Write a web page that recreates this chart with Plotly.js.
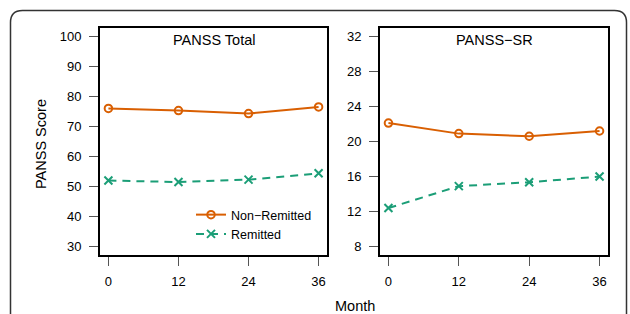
<!DOCTYPE html>
<html>
<head>
<meta charset="utf-8">
<script src="https://cdn.plot.ly/plotly-3.0.1.min.js"></script>
<style>html,body{margin:0;padding:0;background:#fff;}#chart{width:630px;height:314px;}</style>
</head>
<body>
<div id="chart"></div>
<script>
const months = [0, 12, 24, 36];
const seriesNames = ["Non\u2212Remitted", "Remitted"];
const totalNonRemitted = [76.0, 75.3, 74.3, 76.5];
const totalRemitted = [52.0, 51.5, 52.3, 54.4];
const srNonRemitted = [22.1, 20.9, 20.6, 21.2];
const srRemitted = [12.4, 14.9, 15.35, 16.0];
const totalTicks = [30, 40, 50, 60, 70, 80, 90, 100];
const srTicks = [8, 12, 16, 20, 24, 28, 32];
const panelTitles = ["PANSS Total", "PANSS\u2212SR"];
const yTitle = "PANSS Score";
const xTitle = "Month";

const W = 630, H = 314;
const px = x => x / W;
const py = y => 1 - y / H;
const orange = "#D95F02", green = "#1B9E77";
const fam = "Liberation Sans, Arial, Helvetica, sans-serif";
const fnt = {family: fam, size: 13, color: "#000"};
const tfnt = {family: fam, size: 14.5, color: "#000"};

function nonRem(x, y, xa, ya, show) {
  return {x: x, y: y, xaxis: xa, yaxis: ya, type: "scatter", mode: "lines+markers",
    name: seriesNames[0], showlegend: show,
    line: {color: orange, width: 2},
    marker: {symbol: "circle-open", size: 7.5, color: orange, line: {color: orange, width: 2}}};
}
function rem(x, y, xa, ya, show) {
  return {x: x, y: y, xaxis: xa, yaxis: ya, type: "scatter", mode: "lines+markers",
    name: seriesNames[1], showlegend: show,
    line: {color: green, width: 2, dash: "8px,6px"},
    marker: {symbol: "x-thin-open", size: 8, color: green, line: {color: green, width: 2}}};
}

const data = [
  nonRem(months, totalNonRemitted, "x", "y", true),
  rem(months, totalRemitted, "x", "y", true),
  nonRem(months, srNonRemitted, "x2", "y2", false),
  rem(months, srRemitted, "x2", "y2", false)
];

function xax(domain, anchor) {
  return {domain: domain, anchor: anchor, range: [-1.44, 37.44], tickvals: months,
    ticks: "outside", ticklen: 9, tickwidth: 1, tickcolor: "#555",
    showline: true, mirror: true, linecolor: "#000", linewidth: 2,
    showgrid: false, zeroline: false, tickfont: fnt, ticklabelstandoff: 4, fixedrange: true};
}
function yax(domain, anchor, ticks) {
  const lo = ticks[0], hi = ticks[ticks.length - 1], pad = (hi - lo) * 0.04;
  return {domain: domain, anchor: anchor, range: [lo - pad, hi + pad], tickvals: ticks,
    ticks: "outside", ticklen: 9, tickwidth: 1, tickcolor: "#555",
    showline: true, mirror: true, linecolor: "#000", linewidth: 2,
    showgrid: false, zeroline: false, tickfont: fnt, ticklabelstandoff: 5, fixedrange: true};
}

const yDom = [py(255), py(28)];
const r = 12, L = 10.5, T = 10.5, R = 626.5, B = 340;
const framePath = [
  `M ${px(L)} ${py(B)}`,
  `L ${px(L)} ${py(T + r)}`,
  `Q ${px(L)} ${py(T)} ${px(L + r)} ${py(T)}`,
  `L ${px(R - r)} ${py(T)}`,
  `Q ${px(R)} ${py(T)} ${px(R)} ${py(T + r)}`,
  `L ${px(R)} ${py(B)}`
].join(" ");

const layout = {
  width: W, height: H,
  margin: {l: 0, r: 0, t: 0, b: 0},
  paper_bgcolor: "#fff", plot_bgcolor: "#fff",
  font: fnt,
  xaxis: xax([px(100), px(327)], "y"),
  yaxis: yax(yDom, "x", totalTicks),
  xaxis2: xax([px(380), px(608)], "y2"),
  yaxis2: yax(yDom, "x2", srTicks),
  showlegend: true,
  legend: {x: px(191), y: py(200), xanchor: "left", yanchor: "top",
    bgcolor: "rgba(0,0,0,0)", borderwidth: 0, font: {family: fam, size: 12.5, color: "#000"},
    tracegroupgap: 0, itemwidth: 30, traceorder: "normal"},
  shapes: [{type: "path", xref: "paper", yref: "paper", path: framePath,
    line: {color: "#333", width: 1.5}, fillcolor: "rgba(0,0,0,0)", layer: "below"}],
  annotations: [
    {text: panelTitles[0], xref: "paper", yref: "paper", x: px(213.5), y: py(39.5), xanchor: "center", yanchor: "middle", showarrow: false, font: tfnt},
    {text: panelTitles[1], xref: "paper", yref: "paper", x: px(494), y: py(39.5), xanchor: "center", yanchor: "middle", showarrow: false, font: tfnt},
    {text: yTitle, xref: "paper", yref: "paper", x: px(41), y: py(144), xanchor: "center", yanchor: "middle", textangle: -90, showarrow: false, font: tfnt},
    {text: xTitle, xref: "paper", yref: "paper", x: px(355), y: py(296), xanchor: "center", yanchor: "top", showarrow: false, font: tfnt}
  ]
};

Plotly.newPlot("chart", data, layout, {displayModeBar: false, staticPlot: true});
</script>
</body>
</html>
